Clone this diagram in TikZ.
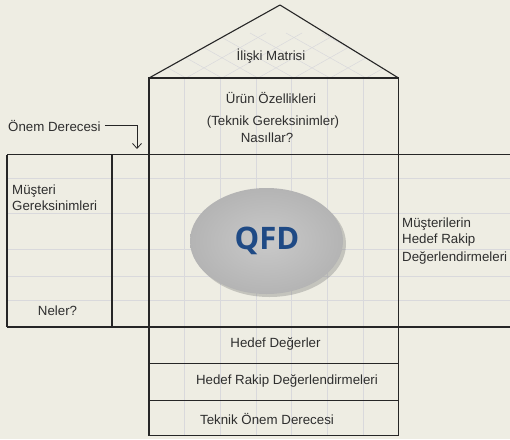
\documentclass[tikz,border=0pt]{standalone}
\usepackage{fontspec}
\setmainfont{Liberation Sans}
\newfontfamily\qfdfont{Open Sans}
\usetikzlibrary{shadows,arrows.meta,shapes.geometric}
\definecolor{bg}{HTML}{EEEDE3}
\definecolor{gridc}{HTML}{D9D9DC}
\definecolor{txt}{HTML}{2E2E2E}
\definecolor{qfdblue}{HTML}{1F4A85}
\definecolor{ellin}{HTML}{C9C9C9}
\definecolor{ellout}{HTML}{B4B4B4}
\tikzset{
  frame/.style={draw=black!85, line width=1.1pt},
  gridl/.style={draw=gridc, line width=0.7pt},
  lbl/.style={font=\fontsize{13.3}{16}\selectfont, text=txt, inner sep=0pt},
  lblL/.style={lbl, anchor=west, align=left},
}
\begin{document}
\begin{tikzpicture}[x=1pt,y=-1pt]
\useasboundingbox (0,0) rectangle (510,439);
\fill[bg] (0,0) rectangle (510,439);
% grid: verticals in middle
\foreach \i in {1,...,6} {
  \draw[gridl] ({149+\i*35.7},78) -- ({149+\i*35.7},435);
}
% horizontal grid lines in the middle band
\foreach \y in {178,213,249,276,300} {
  \draw[gridl] (7,\y) -- (510,\y);
}
% roof faint diagonals
\begin{scope}
\clip (150,78) -- (280,5) -- (398,78) -- cycle;
\foreach \i in {-4,...,8} {
  \draw[gridl, line width=0.5pt] ({150+\i*36},78) -- ++(80,-45);
  \draw[gridl, line width=0.5pt] ({150+\i*36},78) -- ++(-80,-45);
}
\end{scope}
% roof
\coordinate (rl) at (149,78);
\coordinate (ra) at (280,5);
\coordinate (rr) at (398.5,78);
\draw[frame, line join=round] (rl) -- (ra) -- (rr);
% house body
\draw[frame] (149,78) rectangle (398.5,435.5);
\draw[frame] (149,363.5) -- (398.5,363.5);
\draw[frame] (149,400.5) -- (398.5,400.5);
% wide band
\draw[frame] (7,154.5) -- (510,154.5);
\draw[frame] (7,327) -- (510,327);
\draw[frame] (7,154.5) -- (7,327);
\draw[frame] (112,154.5) -- (112,327);
% ellipse
\node[ellipse, draw=none, minimum width=153pt, minimum height=106pt,
  drop shadow={shadow xshift=3pt, shadow yshift=-3pt, opacity=0.3, fill=black!60},
  inner color=ellin, outer color=ellout] (qfd) at (266.5,241) {};
\node[font=\qfdfont\bfseries\fontsize{31}{33}\selectfont, text=qfdblue] (qfdt) at (267,241) {QFD};
% labels
\node[lbl] (iliski) at (271,56) {İlişki Matrisi};
\node[lbl] (urun) at (271,98) {Ürün Özellikleri};
\node[lbl] (teknik) at (273,122) {(Teknik Gereksinimler)};
\node[lbl] (nasil) at (267,138) {Nasıllar?};
\node[lblL] (onem) at (8,125.5) {Önem Derecesi};
\coordinate (onemc) at (137,125.5);
\coordinate (onemd) at (137,149);
\draw[black!85, line width=0.8pt, -{Straight Barb[length=5pt,width=9pt]}] (onem.east) ++(4,0) -- (onemc) -- (onemd);
\node[lblL, align=left] (must) at (12,198) {Müşteri\\Gereksinimleri};
\node[lbl] (neler) at (57.5,311) {Neler?};
\node[lblL, align=left] (hedefr) at (402,241) {Müşterilerin\\Hedef Rakip\\[2pt]Değerlendirmeleri};
\node[lbl] (hd) at (275.5,343.5) {Hedef Değerler};
\node[lbl] (hrd) at (287,381) {Hedef Rakip Değerlendirmeleri};
\node[lbl] (tod) at (267,418.5) {Teknik Önem Derecesi};
\end{tikzpicture}
\end{document}
